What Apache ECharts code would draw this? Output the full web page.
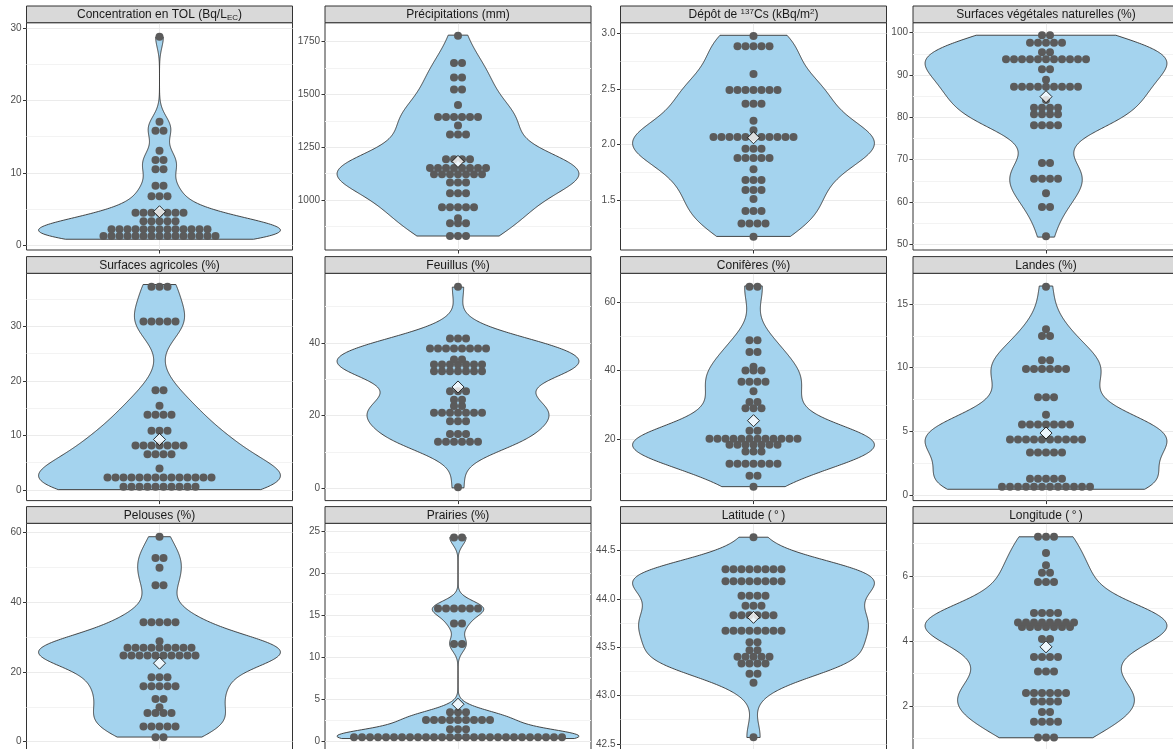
<!DOCTYPE html>
<html><head><meta charset="utf-8">
<script src="https://cdn.jsdelivr.net/npm/echarts@6.0.0/dist/echarts.min.js"></script>
<style>html,body{margin:0;padding:0;background:#fff}#c{width:1173px;height:749px}</style>
</head><body><div id="c"></div>
<script>
// ---------- DATA ----------
// dot rows: bin centre values and number of stacked dots per row
const tolY   = [1.25, 2.17, 3.28, 4.47, 6.74, 8.21, 10.48, 11.77, 13.06, 15.83, 17.07, 28.84];
const tolN   = [15, 13, 5, 7, 3, 2, 2, 2, 1, 2, 1, 1];
const precY  = [829.5, 889.7, 913.4, 965.4, 1031.6, 1083.6, 1121.6, 1151.5, 1192.7, 1311, 1353.6, 1393, 1450, 1524, 1581, 1648.6, 1778];
const precN  = [3, 3, 1, 5, 3, 3, 7, 8, 4, 3, 1, 6, 1, 2, 2, 2, 1];
const csY    = [1.173, 1.293, 1.404, 1.512, 1.592, 1.682, 1.778, 1.880, 1.963, 2.069, 2.129, 2.215, 2.368, 2.491, 2.634, 2.883, 2.976];
const csN    = [1, 4, 3, 1, 3, 3, 1, 5, 3, 11, 1, 1, 3, 7, 1, 5, 1];
const vegY   = [51.89, 58.81, 62.05, 65.50, 69.21, 78.12, 80.72, 82.28, 84.10, 87.25, 88.90, 91.35, 93.71, 95.37, 97.64, 99.39];
const vegN   = [1, 2, 1, 4, 2, 4, 4, 4, 1, 9, 1, 2, 11, 2, 5, 2];
const agriY  = [0.55, 2.26, 3.92, 6.55, 8.15, 10.86, 13.80, 15.46, 18.28, 30.92, 37.29];
const agriN  = [10, 14, 1, 4, 7, 3, 4, 1, 2, 5, 3];
const feuY   = [0.37, 12.85, 14.95, 18.5, 20.8, 22.65, 24.4, 26.7, 32.2, 34.04, 35.42, 38.45, 41.2, 55.41];
const feuN   = [1, 6, 3, 3, 7, 2, 2, 3, 7, 7, 2, 8, 3, 1];
const conY   = [6.04, 9.26, 12.8, 16.4, 18.35, 20.1, 22.46, 29.0, 30.85, 33.99, 36.8, 40.05, 41.2, 45.5, 48.94, 64.57];
const conN   = [1, 2, 7, 3, 7, 12, 2, 3, 2, 1, 4, 3, 1, 2, 2, 2];
const lanY   = [0.63, 1.26, 3.33, 4.36, 5.54, 6.3, 7.67, 9.9, 10.58, 12.5, 13.03, 16.36];
const lanN   = [12, 5, 5, 10, 7, 1, 3, 6, 2, 2, 1, 1];
const pelY   = [1.24, 4.31, 8.23, 9.86, 12.25, 15.9, 18.49, 24.73, 26.92, 28.85, 34.31, 44.87, 49.93, 52.72, 58.85];
const pelN   = [2, 5, 4, 1, 2, 5, 3, 10, 9, 1, 5, 2, 1, 2, 1];
const praY   = [0.44, 1.40, 2.51, 3.43, 11.55, 14.0, 15.8, 24.28];
const praN   = [27, 3, 9, 3, 2, 2, 6, 2];
const latY   = [42.569, 43.132, 43.225, 43.333, 43.402, 43.468, 43.551, 43.671, 43.831, 43.930, 44.034, 44.183, 44.307, 44.639];
const latN   = [1, 1, 2, 4, 5, 2, 2, 8, 6, 3, 4, 8, 8, 1];
const lonY   = [1.03, 1.51, 1.81, 2.14, 2.40, 3.06, 3.51, 4.06, 4.43, 4.57, 4.86, 5.82, 6.10, 6.33, 6.71, 7.213];
const lonN   = [3, 4, 2, 4, 6, 3, 4, 2, 7, 8, 4, 3, 2, 1, 1, 3];

const panelTitles = [
  '{n|Concentration en TOL (Bq/L}{sub|EC}{n|)}',
  '{n|Précipitations (mm)}',
  '{n|Dépôt de }{sup|137}{n|Cs (kBq/m}{sup|2}{n|)}',
  '{n|Surfaces végétales naturelles (%)}',
  '{n|Surfaces agricoles (%)}',
  '{n|Feuillus (%)}',
  '{n|Conifères (%)}',
  '{n|Landes (%)}',
  '{n|Pelouses (%)}',
  '{n|Prairies (%)}',
  '{n|Latitude (\u2009°\u2009)}',
  '{n|Longitude (\u2009°\u2009)}'
];
const dotValues = [tolY, precY, csY, vegY, agriY, feuY, conY, lanY, pelY, praY, latY, lonY];
const dotCounts = [tolN, precN, csN, vegN, agriN, feuN, conN, lanN, pelN, praN, latN, lonN];
const means = [4.61, 1183, 2.062, 84.88, 9.26, 27.9, 25.4, 4.86, 22.52, 4.38, 43.81, 3.82];
// observed data range (violin trimmed ends)
const dataMin = [0.8, 829.5, 1.176, 51.7, 0.05, 0.2, 6.1, 0.44, 1.3, 0.29, 42.566, 1.02];
const dataMax = [28.8, 1781, 2.982, 99.4, 37.7, 55.3, 64.8, 16.42, 58.85, 24.3, 44.64, 7.21];
// axis extents
const axisMin = [-0.69, 763.3, 1.054, 48.65, -1.97, -3.30, 2.02, -0.45, -2.59, -1.15, 42.43, 0.624];
const axisMax = [30.78, 1840, 3.095, 102.36, 39.76, 59.1, 68.5, 17.42, 62.7, 25.96, 44.784, 7.626];
const majorTicks = [
  [0, 10, 20, 30], [1000, 1250, 1500, 1750], [1.5, 2.0, 2.5, 3.0], [50, 60, 70, 80, 90, 100],
  [0, 10, 20, 30], [0, 20, 40], [20, 40, 60], [0, 5, 10, 15],
  [0, 20, 40, 60], [0, 5, 10, 15, 20, 25], [42.5, 43.0, 43.5, 44.0, 44.5], [2, 4, 6]
];
const minorTicks = [
  [5, 15, 25], [875, 1125, 1375, 1625], [1.25, 1.75, 2.25, 2.75], [55, 65, 75, 85, 95],
  [5, 15, 25, 35], [10, 30, 50], [10, 30, 50], [2.5, 7.5, 12.5],
  [10, 30, 50], [2.5, 7.5, 12.5, 17.5, 22.5], [42.75, 43.25, 43.75, 44.25], [1, 3, 5, 7]
];
const labelDecimals = [0, 0, 1, 0, 0, 0, 0, 0, 0, 0, 1, 0];

// ---------- LAYOUT ----------
const COL_LEFT = [26.5, 325, 620.5, 913];
const ROW_TOP = [22.7, 273.3, 523.3];
const W = 266, H = 227.3, STRIP_H = 16.7;
const DOT = 8;
const VIOLIN_HALF = 0.45, X_HALF = 0.495;

// Gaussian KDE (bw.nrd0), trimmed to the data range, scaled to max half-width
function violinCurve(vals, counts, lo, hi) {
  const x = [];
  vals.forEach((v, k) => { for (let j = 0; j < counts[k]; j++) x.push(v); });
  const n = x.length;
  const mean = x.reduce((a, b) => a + b, 0) / n;
  const sd = Math.sqrt(x.reduce((a, b) => a + (b - mean) * (b - mean), 0) / (n - 1));
  const s = x.slice().sort((a, b) => a - b);
  const q = p => { const h = (n - 1) * p, i = Math.floor(h); const nx = i + 1 < n ? s[i + 1] : s[i]; return s[i] + (h - i) * (nx - s[i]); };
  let m = Math.min(sd, (q(0.75) - q(0.25)) / 1.34);
  if (!(m > 0)) m = sd;
  const bw = 0.9 * m * Math.pow(n, -0.2);
  const N = 300, pts = [];
  for (let i = 0; i < N; i++) {
    const y = lo + (hi - lo) * i / (N - 1);
    let d = 0;
    for (const xi of x) { const z = (y - xi) / bw; d += Math.exp(-0.5 * z * z); }
    pts.push([y, d]);
  }
  const mx = Math.max(...pts.map(p => p[1]));
  return pts.map(p => [p[0], VIOLIN_HALF * p[1] / mx]);
}

const grids = [], xAxes = [], yAxes = [], series = [], graphics = [];
for (let i = 0; i < 12; i++) {
  const r = Math.floor(i / 4), c = i % 4;
  const left = COL_LEFT[c], top = ROW_TOP[r];
  grids.push({ left, top, width: W, height: H, show: true, borderColor: '#333', borderWidth: 1,
    backgroundColor: 'transparent', containLabel: false, outerBoundsMode: 'none' });
  xAxes.push({ type: 'value', gridIndex: i, min: -X_HALF, max: X_HALF, position: 'bottom',
    axisLine: { show: false, onZero: false },
    axisLabel: { show: false },
    axisTick: { show: true, customValues: [0], length: 3.5, lineStyle: { color: '#333', width: 1 } },
    splitLine: { show: true, lineStyle: { color: '#ebebeb', width: 1 } } });
  const dec = labelDecimals[i];
  // major y axis
  yAxes.push({ type: 'value', gridIndex: i, min: axisMin[i], max: axisMax[i], position: 'left',
    axisLine: { show: false, onZero: false },
    axisTick: { show: true, customValues: majorTicks[i], length: 3.5, lineStyle: { color: '#333', width: 1 } },
    axisLabel: { show: true, customValues: majorTicks[i], margin: 5, color: '#4d4d4d', fontSize: 10,
      fontFamily: 'Liberation Sans', formatter: v => Number(v).toFixed(dec) },
    splitLine: { show: true, lineStyle: { color: '#ebebeb', width: 1 } } });
  // minor y axis (only split lines)
  yAxes.push({ type: 'value', gridIndex: i, min: axisMin[i], max: axisMax[i], position: 'left',
    axisLine: { show: false, onZero: false },
    axisTick: { show: false, customValues: minorTicks[i] },
    axisLabel: { show: false },
    splitLine: { show: true, lineStyle: { color: '#f3f3f3', width: 1 } } });
  const yIdx = 2 * i;
  const curve = violinCurve(dotValues[i], dotCounts[i], dataMin[i], dataMax[i]);
  series.push({ type: 'custom', xAxisIndex: i, yAxisIndex: yIdx, silent: true, z: 2,
    data: [[0, dataMin[i]]],
    renderItem: (params, api) => {
      const L = curve.map(p => api.coord([-p[1], p[0]]));
      const R = curve.slice().reverse().map(p => api.coord([p[1], p[0]]));
      return { type: 'polygon', shape: { points: L.concat(R) },
        style: { fill: '#a4d3ee', stroke: '#333', lineWidth: 0.9 } };
    } });
  series.push({ type: 'custom', xAxisIndex: i, yAxisIndex: yIdx, silent: true, z: 3,
    data: dotValues[i].map((v, k) => [0, v, dotCounts[i][k]]),
    encode: { x: 0, y: 1 },
    renderItem: (params, api) => {
      const y = api.value(1), n = api.value(2);
      const ctr = api.coord([0, y]);
      const children = [];
      for (let k = 0; k < n; k++) {
        children.push({ type: 'circle', shape: { cx: ctr[0] + (k - (n - 1) / 2) * DOT, cy: ctr[1], r: DOT / 2 },
          style: { fill: '#5b5b5b' } });
      }
      return { type: 'group', children };
    } });
  series.push({ type: 'scatter', xAxisIndex: i, yAxisIndex: yIdx, silent: true, z: 4,
    data: [[0, means[i]]], symbol: 'diamond', symbolSize: 12,
    itemStyle: { color: '#ffffff', borderColor: '#000', borderWidth: 1 } });
  // strip
  graphics.push({ type: 'rect', shape: { x: left, y: top - STRIP_H, width: W, height: STRIP_H },
    style: { fill: '#d9d9d9', stroke: '#333', lineWidth: 1 }, z: 10 });
  graphics.push({ type: 'text', x: left + W / 2, y: top - STRIP_H / 2 + 0.5, z: 11,
    style: { text: panelTitles[i], align: 'center', verticalAlign: 'middle',
      rich: {
        n: { fontSize: 12, fontFamily: 'Liberation Sans', fill: '#1a1a1a', lineHeight: 14 },
        sub: { fontSize: 8, fontFamily: 'Liberation Sans', fill: '#1a1a1a', lineHeight: 8, verticalAlign: 'bottom' },
        sup: { fontSize: 8, fontFamily: 'Liberation Sans', fill: '#1a1a1a', lineHeight: 8, verticalAlign: 'top' }
      } } });
}

const chart = echarts.init(document.getElementById('c'), null, { renderer: 'canvas' });
chart.setOption({
  animation: false,
  backgroundColor: '#ffffff',
  grid: grids, xAxis: xAxes, yAxis: yAxes, series,
  graphic: { elements: graphics }
});
</script></body></html>
